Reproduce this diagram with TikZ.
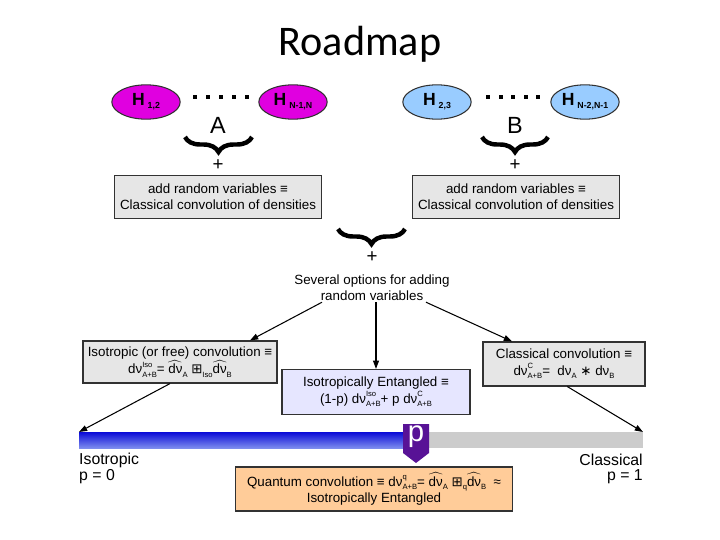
\documentclass[tikz,border=0pt]{standalone}
\usepackage{amsmath}
\usepackage{amssymb}
\usepackage{fontspec}
\setmainfont{Liberation Sans}
\newfontfamily\titlefont{Carlito}
\newfontfamily\symfont{DejaVu Sans}
\usepackage{tikz}
\usetikzlibrary{shapes.geometric,arrows.meta,decorations.pathreplacing}

\definecolor{hmag}{RGB}{224,0,224}
\definecolor{hblue}{RGB}{153,204,255}
\definecolor{boxgray}{RGB}{230,230,230}
\definecolor{entlav}{RGB}{230,230,255}
\definecolor{quantorange}{RGB}{255,204,153}
\definecolor{markpurple}{RGB}{88,18,150}
\definecolor{bargray}{RGB}{204,204,204}
\definecolor{edgegray}{RGB}{50,50,50}

\newcommand{\tinyt}[1]{{\fontsize{6.5}{6.5}\selectfont #1}}
\newcommand{\lowt}[1]{\raisebox{-3pt}{\tinyt{#1}}}
\newcommand{\dvss}[2]{dν\rlap{\raisebox{5.5pt}{\tinyt{#1}}}\lowt{#2}}
\newcommand{\dvhat}[1]{$\widehat{\mbox{dν}}$\lowt{#1}}
\newcommand{\hname}[1]{\textbf{H}\,\raisebox{-2.5pt}{\fontsize{7.5}{7.5}\selectfont\bfseries #1}}

\begin{document}
\begin{tikzpicture}[x=0.03cm,y=-0.03cm,
  hnode/.style={ellipse,draw=edgegray,line width=0.9pt,minimum width=2.05cm,minimum height=1.03cm,inner sep=0pt,font=\fontsize{15}{17}\selectfont},
  txtbox/.style={draw=edgegray,line width=1pt,align=center,inner sep=1pt,font=\fontsize{11.4}{14}\selectfont},
  bigbrace/.style={decorate,decoration={brace,mirror,amplitude=0.45cm},line width=3.8pt},
  plus/.style={font=\fontsize{16}{16}\selectfont,inner sep=0pt},
  arr/.style={-{Triangle[length=7pt,width=5pt]},line width=0.9pt},
  endlabel/.style={font=\fontsize{13.5}{15}\selectfont,inner sep=0pt}]
\useasboundingbox (0,0) rectangle (720,540);

\node[font=\titlefont\fontsize{36}{40}\selectfont] (title) at (360,44) {Roadmap};

\node[hnode,fill=hmag] (h12) at (146,102) {\hname{1,2}};
\node[hnode,fill=hmag] (hn1) at (293,102) {\hname{N-1,N}};
\node[hnode,fill=hblue] (h23) at (437,102) {\hname{2,3}};
\node[hnode,fill=hblue] (hn2) at (585,102) {\hname{N-2,N-1}};
\foreach \i in {0,...,4} {
  \fill (193+13*\i,95) rectangle ++(4,4);
  \fill (486+12.5*\i,95) rectangle ++(4,4);
}

\node[font=\fontsize{20}{22}\selectfont] (A) at (218,125) {A};
\node[font=\fontsize{20}{22}\selectfont] (B) at (515,125) {B};
\draw[bigbrace] (185,137) -- (252,137);
\draw[bigbrace] (482,137) -- (548,137);
\node[plus] (plusA) at (218,165) {+};
\node[plus] (plusB) at (515,165) {+};

\node[txtbox,fill=boxgray,minimum width=6.21cm,minimum height=1.29cm] (sumA) at (218,197) {add random variables ≡\\Classical convolution of densities};
\node[txtbox,fill=boxgray,minimum width=6.21cm,minimum height=1.29cm] (sumB) at (516,197) {add random variables ≡\\Classical convolution of densities};

\draw[bigbrace] (338,229) -- (405,229);
\node[plus] (plusC) at (372,257) {+};
\node[align=center,font=\fontsize{11.4}{13.5}\selectfont,inner sep=1pt] (opts) at (372,288) {Several options for adding\\random variables};

\node[txtbox,fill=boxgray,minimum width=5.82cm,minimum height=1.26cm] (iso) at (180,362) {Isotropic (or free) convolution ≡\\\dvss{Iso}{A+B}= \dvhat{A} {\symfont ⊞}\lowt{Iso}\dvhat{B}};
\node[txtbox,fill=entlav,minimum width=5.64cm,minimum height=1.35cm] (ent) at (376,392) {Isotropically Entangled ≡\\(1-p) \dvss{Iso}{A+B}+ p \dvss{C}{A+B}};
\node[txtbox,fill=boxgray,minimum width=4.86cm,minimum height=1.32cm] (cls) at (564,364) {Classical convolution ≡\\\dvss{C}{A+B}= \ dν\lowt{A} {\symfont ∗} dν\lowt{B}};

\draw[arr] ([xshift=-1.5cm]opts.south) -- ([xshift=2.1cm]iso.north);
\draw[arr] (ent.north |- opts.south) -- (ent.north);
\draw[arr] ([xshift=1.62cm]opts.south) -- ([xshift=-1.56cm]cls.north);

\coordinate (barL) at (79,432);
\coordinate (barR) at (643,432);
\fill[bargray] (402,432) rectangle (643,448);
\shade[top color={rgb,255:red,10;green,10;blue,215},bottom color={rgb,255:red,125;green,140;blue,238}] (79,432) rectangle (403,448);
\fill[markpurple] (403,424) -- (429,424) -- (429,453) -- (416,463) -- (403,453) -- cycle;
\node[text=white,font=\fontsize{25}{25}\selectfont,inner sep=0pt] (p) at (416,437) {p};

\draw[arr] ([xshift=-0.3cm]iso.south) -- (barL);
\draw[arr] ([xshift=0.1cm]cls.south) -- (barR);

\node[endlabel,anchor=west] (isolab) at (79,460) {Isotropic};
\node[endlabel,anchor=west] (p0) at (79,477) {p = 0};
\node[endlabel,anchor=east] (clslab) at (643,460) {Classical};
\node[endlabel,anchor=east] (p1) at (643,477) {p = 1};

\node[txtbox,fill=quantorange,minimum width=8.31cm,minimum height=1.32cm] (quant) at (374,489) {Quantum convolution ≡ \dvss{q}{A+B}= \dvhat{A} {\symfont ⊞}\lowt{q}\dvhat{B} \ ≈\\Isotropically Entangled};
\end{tikzpicture}
\end{document}
